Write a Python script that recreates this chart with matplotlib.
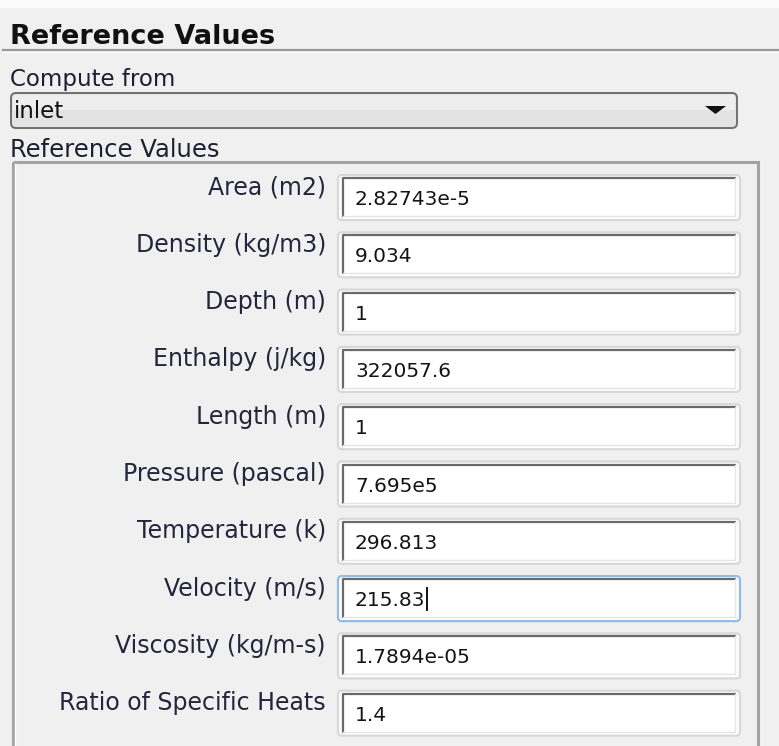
import matplotlib.pyplot as plt
from matplotlib.patches import Rectangle, FancyBboxPatch, Polygon

# panel contents
title = 'Reference Values'
compute_label = 'Compute from'
compute_choice = 'inlet'
group_title = 'Reference Values'
labels = ['Area (m2)', 'Density (kg/m3)', 'Depth (m)', 'Enthalpy (j/kg)', 'Length (m)',
          'Pressure (pascal)', 'Temperature (k)', 'Velocity (m/s)', 'Viscosity (kg/m-s)',
          'Ratio of Specific Heats']
values = ['2.82743e-5', '9.034', '1', '322057.6', '1', '7.695e5', '296.813', '215.83',
          '1.7894e-05', '1.4']
focused = 'Velocity (m/s)'

W, H = 779, 746
fig = plt.figure(figsize=(W / 100, H / 100), dpi=100)
ax = fig.add_axes([0, 0, 1, 1])
ax.set_xlim(0, W)
ax.set_ylim(H, 0)
ax.axis('off')

ax.add_patch(Rectangle((0, 0), W, H, fc='#f0f0f0', ec='none'))
ax.add_patch(Rectangle((0, 0), W, 8, fc='#fbfbfb', ec='none'))

# header
ax.text(10, 44, title, fontsize=19.5, fontweight='bold', color='#111111', va='baseline')
ax.plot([3, W], [50, 50], color='#9a9a9a', lw=1.6)
ax.plot([3, W], [52, 52], color='#ffffff', lw=1)

# combo box
ax.text(10, 86, compute_label, fontsize=16.5, color='#1e2030', va='baseline')
ax.add_patch(FancyBboxPatch((11, 93), 726, 35, boxstyle='round,pad=0,rounding_size=5',
                            fc='#e3e3e3', ec='#6f6f6f', lw=1.4))
ax.add_patch(Rectangle((13, 95), 722, 15, fc='#eeeeee', ec='none'))
ax.text(14, 118, compute_choice, fontsize=16.5, color='#111111', va='baseline')
ax.add_patch(Polygon([(705, 106), (726, 106), (715.5, 114)], closed=True, fc='#111111', ec='none'))

# group box
ax.text(10, 157, group_title, fontsize=17.5, color='#1e2030', va='baseline')
ax.add_patch(Rectangle((13, 162), 745, 620, fc='none', ec='#a3a3a3', lw=2.2))
ax.plot([15.5, 15.5], [164, H], color='#ffffff', lw=1)

step = 57.3
for i, (lab, val) in enumerate(zip(labels, values)):
    top = 175 + step * i
    yc = top + 22.5
    edge = '#8fbde9' if lab == focused else '#d8d8d8'
    ax.add_patch(FancyBboxPatch((338, top), 402, 45, boxstyle='round,pad=0,rounding_size=4',
                                fc='#ffffff', ec=edge, lw=1.6))
    # sunken inner border
    ax.plot([343, 343, 735], [top + 41, top + 3, top + 3], color='#6a6a6a', lw=1.6)
    ax.plot([343, 735, 735], [top + 41, top + 41, top + 3], color='#e4e4e4', lw=1)
    ax.text(326, yc - 3, lab, fontsize=17, color='#25263c', ha='right', va='baseline')
    t = ax.text(355, yc + 7.5, val, fontsize=14.5, color='#141414', va='baseline')
    if lab == focused:
        fig.canvas.draw()
        bb = t.get_window_extent().transformed(ax.transData.inverted())
        ax.plot([bb.x1 + 2, bb.x1 + 2], [yc - 11, yc + 11], color='#111111', lw=1.4)

fig.savefig('out.png', dpi=100)
